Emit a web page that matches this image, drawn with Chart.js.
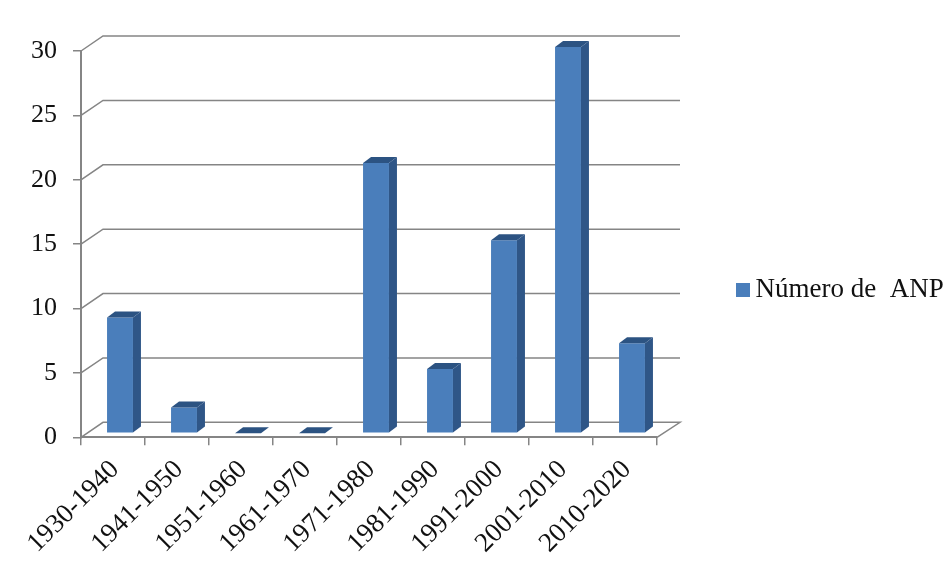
<!DOCTYPE html>
<html>
<head>
<meta charset="utf-8">
<script src="https://cdn.jsdelivr.net/npm/chart.js@4"></script>
<style>
html, body { margin: 0; padding: 0; background: #fff; }
#wrap { width: 951px; height: 568px; }
</style>
</head>
<body>
<div id="wrap"><canvas id="chart" width="951" height="568"></canvas></div>
<script>
const categories = ["1930-1940", "1941-1950", "1951-1960", "1961-1970", "1971-1980", "1981-1990", "1991-2000", "2001-2010", "2010-2020"];
const anp_values = [9, 2, 0, 0, 21, 5, 15, 30, 7];
const series_name = "Número de  ANP";

const grid_color = "#858585";
const bar_front = "#4a7ebb";
const bar_side = "#2f5687";
const bar_top = "#2c5382";

// legend swatch sits closer to the text than chart.js normally allows
const swatch = document.createElement("canvas");
swatch.width = 18;
swatch.height = 14;
const swatch_ctx = swatch.getContext("2d");
swatch_ctx.fillStyle = bar_front;
swatch_ctx.fillRect(4, 0, 14, 14);

// fake 3D box: walls behind the bars, then bars pushed into the box
const box3d = {
    id: "box3d",
    afterLayout(chart){
        // legend stays far right of the plot
        const legend = chart.legend;
        const w = legend.right - legend.left;
        legend.left = 730;
        legend.right = 730 + w;
        legend.top -= 20;
        legend.bottom -= 20;
    },
    beforeDatasetsDraw(chart){
        const ctx = chart.ctx;
        const y = chart.scales.y;
        const left = chart.chartArea.left;
        const right = chart.chartArea.right;
        ctx.save();
        ctx.strokeStyle = grid_color;
        ctx.lineWidth = 1.5;
        for(let v = 0; v <= 30; v += 5){
            const py = y.getPixelForValue(v);
            ctx.beginPath();
            ctx.moveTo(left, py);
            ctx.lineTo(left + 22, py - 15);
            ctx.lineTo(right + 23, py - 15);
            if(v === 0) ctx.lineTo(right, py);
            ctx.stroke();
        }
        ctx.restore();
        ctx.save();
        ctx.translate(7, -4);
    },
    afterDatasetsDraw(chart){
        const ctx = chart.ctx;
        const bars = chart.getDatasetMeta(0).data;
        for(let i in bars){
            const b = bars[i].getProps(["x", "y", "base", "width"], true);
            const l = b.x - b.width / 2;
            const r = b.x + b.width / 2;
            ctx.fillStyle = bar_side;
            ctx.beginPath();
            ctx.moveTo(r, b.y);
            ctx.lineTo(r + 8, b.y - 6);
            ctx.lineTo(r + 8, b.base - 6);
            ctx.lineTo(r, b.base);
            ctx.closePath();
            ctx.fill();
            ctx.fillStyle = bar_top;
            ctx.beginPath();
            ctx.moveTo(l, b.y);
            ctx.lineTo(l + 8, b.y - 6);
            ctx.lineTo(r + 8, b.y - 6);
            ctx.lineTo(r, b.y);
            ctx.closePath();
            ctx.fill();
        }
        ctx.restore();
    }
};

new Chart(document.getElementById("chart").getContext("2d"), {
    type: "bar",
    data: {
        labels: categories,
        datasets: [{
            label: series_name,
            data: anp_values,
            backgroundColor: bar_front,
            barPercentage: 0.405,
            categoryPercentage: 1
        }]
    },
    options: {
        responsive: false,
        animation: false,
        layout: { padding: { left: 15, top: 51, right: 80, bottom: 0 } },
        plugins: {
            tooltip: { enabled: false },
            legend: {
                position: "right",
                labels: {
                    padding: 10,
                    usePointStyle: true,
                    pointStyle: swatch,
                    boxWidth: 2,
                    boxHeight: 14,
                    color: "#111",
                    font: { family: "Liberation Serif", size: 27 }
                }
            }
        },
        scales: {
            x: {
                grid: { drawOnChartArea: false, color: grid_color, lineWidth: 1.5, tickLength: 8 },
                border: { color: grid_color, width: 2 },
                ticks: {
                    minRotation: 45,
                    maxRotation: 45,
                    autoSkip: false,
                    color: "#111",
                    padding: 8.5,
                    labelOffset: 2,
                    font: { family: "Liberation Serif", size: 27 }
                }
            },
            y: {
                min: 0,
                max: 30,
                grid: { drawOnChartArea: false, color: grid_color, lineWidth: 1.5, tickLength: 8 },
                border: { color: grid_color, width: 2 },
                ticks: {
                    stepSize: 5,
                    color: "#111",
                    padding: 16,
                    font: { family: "Liberation Serif", size: 26 }
                }
            }
        }
    },
    plugins: [box3d]
});
</script>
</body>
</html>
